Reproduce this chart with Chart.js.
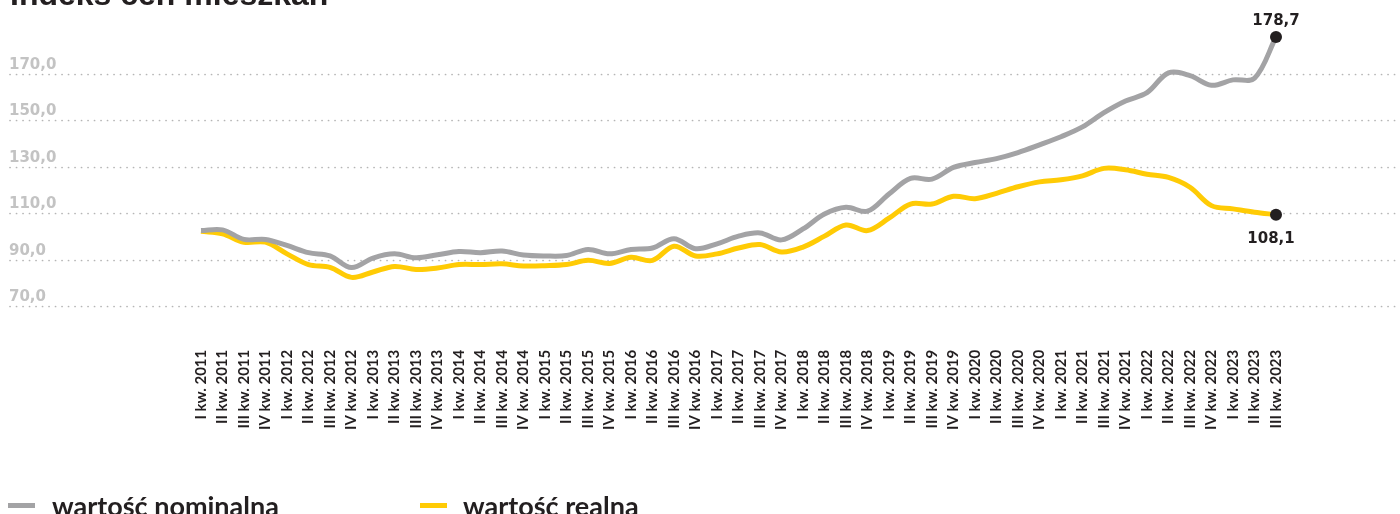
<!DOCTYPE html>
<html lang="pl">
<head>
<meta charset="utf-8">
<title>Indeks cen mieszkań</title>
<script src="https://cdn.jsdelivr.net/npm/chart.js@4.4.1/dist/chart.umd.min.js"></script>
<style>
    html, body { margin: 0; padding: 0; background: #fff; overflow: hidden; }
    #wrap { position: relative; width: 1400px; height: 514px; }
</style>
</head>
<body>
<div id="wrap"><canvas id="price-chart" width="1400" height="514"></canvas></div>
<script>
const quarters = [
    'I kw. 2011', 'II kw. 2011', 'III kw. 2011', 'IV kw. 2011',
    'I kw. 2012', 'II kw. 2012', 'III kw. 2012', 'IV kw. 2012',
    'I kw. 2013', 'II kw. 2013', 'III kw. 2013', 'IV kw. 2013',
    'I kw. 2014', 'II kw. 2014', 'III kw. 2014', 'IV kw. 2014',
    'I kw. 2015', 'II kw. 2015', 'III kw. 2015', 'IV kw. 2015',
    'I kw. 2016', 'II kw. 2016', 'III kw. 2016', 'IV kw. 2016',
    'I kw. 2017', 'II kw. 2017', 'III kw. 2017', 'IV kw. 2017',
    'I kw. 2018', 'II kw. 2018', 'III kw. 2018', 'IV kw. 2018',
    'I kw. 2019', 'II kw. 2019', 'III kw. 2019', 'IV kw. 2019',
    'I kw. 2020', 'II kw. 2020', 'III kw. 2020', 'IV kw. 2020',
    'I kw. 2021', 'II kw. 2021', 'III kw. 2021', 'IV kw. 2021',
    'I kw. 2022', 'II kw. 2022', 'III kw. 2022', 'IV kw. 2022',
    'I kw. 2023', 'II kw. 2023', 'III kw. 2023'
];

// wartość nominalna
const nominal = [
    102.6, 102.9, 98.8, 98.8, 96.2, 93.1, 91.7, 86.7, 90.8, 92.6,
    90.9, 92.2, 93.6, 93.1, 93.8, 92.1, 91.7, 91.9, 94.5, 92.6,
    94.5, 95.1, 99.1, 94.8, 96.9, 100.2, 101.6, 98.6, 103.3, 109.7,
    112.6, 110.9, 118.3, 125.0, 124.7, 129.7, 131.8, 133.5, 136.1, 139.4,
    142.9, 147.1, 153.2, 158.2, 161.8, 170.3, 169.1, 165.0, 167.3, 168.0,
    185.7
];

// wartość realna
const real = [
    102.3, 101.2, 97.6, 97.6, 92.6, 88.0, 86.8, 82.5, 84.8, 87.2,
    85.9, 86.5, 88.0, 88.0, 88.3, 87.4, 87.5, 88.0, 89.8, 88.5,
    91.1, 89.8, 95.9, 91.7, 92.6, 95.1, 96.6, 93.4, 95.5, 100.2,
    105.0, 102.6, 107.9, 114.0, 114.0, 117.3, 116.3, 118.6, 121.4, 123.5,
    124.4, 126.1, 129.3, 128.7, 126.8, 125.4, 121.2, 113.3, 111.9, 110.5,
    109.4
];

const yTicks = [70, 90, 110, 130, 150, 170];
const endLabels = ['178,7', '108,1'];
const seriesNames = ['wartość nominalna', 'wartość realna'];

const GRAY = '#a3a3a5';
const YELLOW = '#ffcb05';
const DARK = '#231f20';

function lastOnly(arr, val) {
    return arr.map((v, i) => i === arr.length - 1 ? val : 0);
}

const decorPlugin = {
    id: 'decor',
    beforeDatasetsDraw(chart) {
        const ctx = chart.ctx;
        const y = chart.scales.y;
        ctx.save();
        ctx.strokeStyle = '#b5b5b5';
        ctx.lineWidth = 1.7;
        ctx.lineCap = 'round';
        ctx.setLineDash([0.1, 6.4]);
        ctx.font = 'bold 15px "DejaVu Sans"';
        ctx.textBaseline = 'alphabetic';
        ctx.textAlign = 'left';
        yTicks.forEach(v => {
            const py = Math.round(y.getPixelForValue(v)) + 0.5;
            ctx.beginPath();
            ctx.moveTo(10, py);
            ctx.lineTo(1395, py);
            ctx.stroke();
            ctx.fillStyle = '#c3c3c3';
            ctx.fillText(v.toFixed(1).replace('.', ','), 9, py - 6);
        });
        ctx.restore();
    },
    afterDraw(chart) {
        const ctx = chart.ctx;
        ctx.save();

        // tytuł (ucięty u góry)
        ctx.fillStyle = DARK;
        ctx.font = 'bold 32px "Liberation Sans"';
        ctx.textAlign = 'left';
        ctx.textBaseline = 'alphabetic';
        ctx.fillText('Indeks cen mieszkań', 10, 5);

        // etykiety końcowych wartości
        ctx.font = 'bold 15px "DejaVu Sans"';
        ctx.textAlign = 'center';
        const p0 = chart.getDatasetMeta(0).data[nominal.length - 1];
        const p1 = chart.getDatasetMeta(1).data[real.length - 1];
        ctx.fillText(endLabels[0], p0.x, p0.y - 12);
        ctx.fillText(endLabels[1], p1.x - 5, p1.y + 28);

        // legenda
        const legend = [[GRAY, 8, 52], [YELLOW, 420, 463]];
        ctx.font = 'bold 27px Lato';
        ctx.textAlign = 'left';
        legend.forEach(([color, mx, tx], i) => {
            ctx.fillStyle = color;
            ctx.fillRect(mx, 503, 27, 5);
            ctx.fillStyle = DARK;
            ctx.fillText(seriesNames[i], tx, 516);
        });
        ctx.restore();
    }
};

new Chart(document.getElementById('price-chart'), {
    type: 'line',
    data: {
        labels: quarters,
        datasets: [
            {
                label: seriesNames[0],
                data: nominal,
                borderColor: GRAY,
                borderWidth: 5,
                tension: 0.35,
                pointRadius: lastOnly(nominal, 6),
                pointBackgroundColor: DARK,
                pointBorderWidth: 0,
                fill: false
            },
            {
                label: seriesNames[1],
                data: real,
                borderColor: YELLOW,
                borderWidth: 5,
                tension: 0.35,
                pointRadius: lastOnly(real, 6),
                pointBackgroundColor: DARK,
                pointBorderWidth: 0,
                fill: false
            }
        ]
    },
    options: {
        responsive: false,
        animation: false,
        devicePixelRatio: 1,
        layout: {
            padding: { left: 201, right: 124, top: 27, bottom: 78 }
        },
        plugins: {
            legend: { display: false },
            tooltip: { enabled: false }
        },
        scales: {
            x: {
                grid: { display: false, drawTicks: false },
                border: { display: false },
                ticks: {
                    autoSkip: false,
                    maxRotation: 90,
                    minRotation: 90,
                    padding: 6,
                    color: DARK,
                    font: { family: 'Lato', weight: 'bold', size: 15 }
                }
            },
            y: {
                display: false,
                min: 54,
                max: 190
            }
        }
    },
    plugins: [decorPlugin]
});
</script>
</body>
</html>
